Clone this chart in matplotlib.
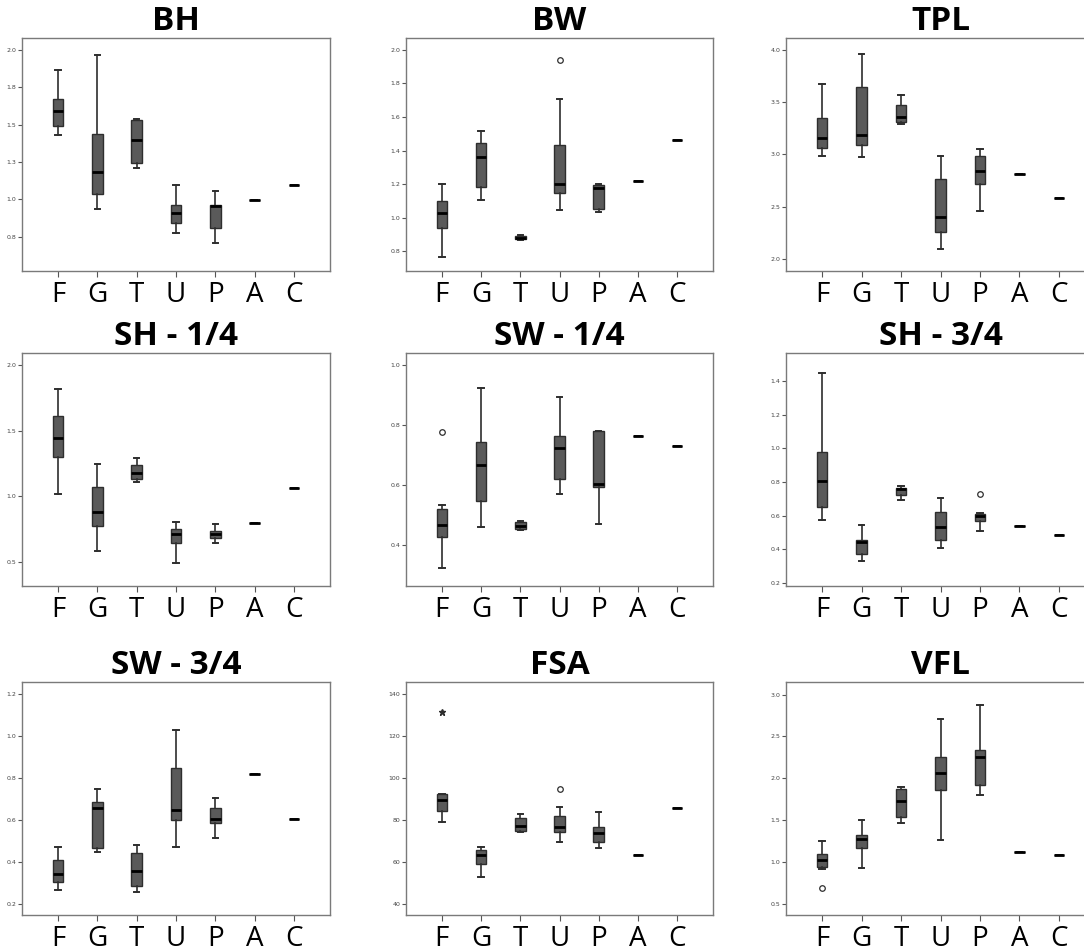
import matplotlib
matplotlib.use("Agg")
import matplotlib.pyplot as plt

groups = ["F", "G", "T", "U", "P", "A", "C"]

# --- per-panel five-number summaries (lower whisker, Q1, median, Q3, upper whisker) ---
bh_lo  = [1.432, 0.935, 1.209, 0.777, 0.705, 0.993, 1.095]
bh_q1  = [1.490, 1.033, 1.240, 0.844, 0.808, 0.993, 1.095]
bh_med = [1.588, 1.184, 1.398, 0.908, 0.953, 0.993, 1.095]
bh_q3  = [1.672, 1.436, 1.532, 0.959, 0.964, 0.993, 1.095]
bh_hi  = [1.866, 1.967, 1.537, 1.095, 1.053, 0.993, 1.095]
bh_out = [[], [], [], [], [], [], []]

bw_lo  = [0.768, 1.105, 0.868, 1.047, 1.035, 1.217, 1.466]
bw_q1  = [0.942, 1.181, 0.874, 1.149, 1.051, 1.217, 1.466]
bw_med = [1.027, 1.362, 0.882, 1.203, 1.177, 1.217, 1.466]
bw_q3  = [1.103, 1.446, 0.890, 1.434, 1.197, 1.217, 1.466]
bw_hi  = [1.201, 1.518, 0.896, 1.705, 1.203, 1.217, 1.466]
bw_out = [[], [], [], [1.940], [], [], []]

tpl_lo  = [2.981, 2.974, 3.291, 2.096, 2.454, 2.812, 2.578]
tpl_q1  = [3.058, 3.089, 3.307, 2.256, 2.719, 2.812, 2.578]
tpl_med = [3.153, 3.179, 3.358, 2.403, 2.843, 2.812, 2.578]
tpl_q3  = [3.342, 3.642, 3.470, 2.767, 2.984, 2.812, 2.578]
tpl_hi  = [3.671, 3.958, 3.569, 2.981, 3.048, 2.812, 2.578]
tpl_out = [[], [], [], [], [], [], []]

sh14_lo  = [1.017, 0.584, 1.106, 0.492, 0.645, 0.795, 1.060]
sh14_q1  = [1.300, 0.770, 1.129, 0.640, 0.683, 0.795, 1.060]
sh14_med = [1.447, 0.882, 1.175, 0.709, 0.711, 0.795, 1.060]
sh14_q3  = [1.616, 1.068, 1.239, 0.747, 0.734, 0.795, 1.060]
sh14_hi  = [1.817, 1.249, 1.294, 0.800, 0.790, 0.795, 1.060]
sh14_out = [[], [], [], [], [], [], []]

sw14_lo  = [0.324, 0.461, 0.450, 0.571, 0.471, 0.763, 0.729]
sw14_q1  = [0.426, 0.547, 0.453, 0.619, 0.594, 0.763, 0.729]
sw14_med = [0.468, 0.666, 0.465, 0.724, 0.603, 0.763, 0.729]
sw14_q3  = [0.520, 0.744, 0.478, 0.764, 0.779, 0.763, 0.729]
sw14_hi  = [0.532, 0.924, 0.481, 0.895, 0.782, 0.763, 0.729]
sw14_out = [[0.776], [], [], [], [], [], []]

sh34_lo  = [0.576, 0.329, 0.694, 0.408, 0.506, 0.538, 0.484]
sh34_q1  = [0.648, 0.371, 0.721, 0.452, 0.566, 0.538, 0.484]
sh34_med = [0.805, 0.441, 0.757, 0.532, 0.596, 0.538, 0.484]
sh34_q3  = [0.978, 0.457, 0.767, 0.624, 0.610, 0.538, 0.484]
sh34_hi  = [1.450, 0.546, 0.777, 0.707, 0.615, 0.538, 0.484]
sh34_out = [[], [], [], [], [0.731], [], []]

sw34_lo  = [0.264, 0.446, 0.257, 0.472, 0.512, 0.818, 0.603]
sw34_q1  = [0.304, 0.468, 0.283, 0.599, 0.584, 0.818, 0.603]
sw34_med = [0.343, 0.655, 0.358, 0.647, 0.603, 0.818, 0.603]
sw34_q3  = [0.410, 0.687, 0.441, 0.846, 0.657, 0.818, 0.603]
sw34_hi  = [0.473, 0.749, 0.482, 1.031, 0.703, 0.818, 0.603]
sw34_out = [[], [], [], [], [], [], []]

fsa_lo  = [78.8, 52.9, 74.1, 69.7, 66.8, 63.4, 85.6]
fsa_q1  = [84.3, 59.1, 74.9, 74.3, 69.7, 63.4, 85.6]
fsa_med = [89.3, 63.3, 77.3, 76.4, 74.0, 63.4, 85.6]
fsa_q3  = [92.2, 65.7, 80.7, 81.8, 76.8, 63.4, 85.6]
fsa_hi  = [92.5, 67.3, 82.9, 86.1, 83.7, 63.4, 85.6]
fsa_out = [[], [], [], [94.9], [], [], []]
fsa_extreme = [[131.4], [], [], [], [], [], []]

vfl_lo  = [0.911, 0.931, 1.470, 1.267, 1.798, 1.123, 1.087]
vfl_q1  = [0.939, 1.163, 1.538, 1.857, 1.917, 1.123, 1.087]
vfl_med = [1.023, 1.275, 1.730, 2.069, 2.257, 1.123, 1.087]
vfl_q3  = [1.095, 1.327, 1.874, 2.257, 2.333, 1.123, 1.087]
vfl_hi  = [1.247, 1.498, 1.894, 2.708, 2.876, 1.123, 1.087]
vfl_out = [[0.688], [], [], [], [], [], []]

# tick values and their printed labels
bh_ticks = [0.75, 1.0, 1.25, 1.5, 1.75, 2.0]
bh_tick_labels = ["0.8", "1.0", "1.3", "1.5", "1.8", "2.0"]
bw_ticks = [0.8, 1.0, 1.2, 1.4, 1.6, 1.8, 2.0]
tpl_ticks = [2.0, 2.5, 3.0, 3.5, 4.0]
sh14_ticks = [0.5, 1.0, 1.5, 2.0]
sw14_ticks = [0.4, 0.6, 0.8, 1.0]
sh34_ticks = [0.2, 0.4, 0.6, 0.8, 1.0, 1.2, 1.4]
sw34_ticks = [0.2, 0.4, 0.6, 0.8, 1.0, 1.2]
fsa_ticks = [40, 60, 80, 100, 120, 140]
vfl_ticks = [0.5, 1.0, 1.5, 2.0, 2.5, 3.0]

W, H = 1084, 951
fig = plt.figure(figsize=(W / 100, H / 100), dpi=100)
fig.patch.set_facecolor("white")

col_left = [22, 406, 786]
col_width = [308, 307, 309]
row_top = [38, 353, 682]
row_h = 233

panels = [
    ("BH", bh_lo, bh_q1, bh_med, bh_q3, bh_hi, bh_out, None, (0.52, 2.08), bh_ticks, bh_tick_labels),
    ("BW", bw_lo, bw_q1, bw_med, bw_q3, bw_hi, bw_out, None, (0.684, 2.07), bw_ticks, None),
    ("TPL", tpl_lo, tpl_q1, tpl_med, tpl_q3, tpl_hi, tpl_out, None, (1.885, 4.11), tpl_ticks, None),
    ("SH - 1/4", sh14_lo, sh14_q1, sh14_med, sh14_q3, sh14_hi, sh14_out, None, (0.314, 2.094), sh14_ticks, None),
    ("SW - 1/4", sw14_lo, sw14_q1, sw14_med, sw14_q3, sw14_hi, sw14_out, None, (0.263, 1.041), sw14_ticks, None),
    ("SH - 3/4", sh34_lo, sh34_q1, sh34_med, sh34_q3, sh34_hi, sh34_out, None, (0.180, 1.569), sh34_ticks, None),
    ("SW - 3/4", sw34_lo, sw34_q1, sw34_med, sw34_q3, sw34_hi, sw34_out, None, (0.146, 1.259), sw34_ticks, None),
    ("FSA", fsa_lo, fsa_q1, fsa_med, fsa_q3, fsa_hi, fsa_out, fsa_extreme, (34.6, 145.9), fsa_ticks, None),
    ("VFL", vfl_lo, vfl_q1, vfl_med, vfl_q3, vfl_hi, vfl_out, None, (0.364, 3.152), vfl_ticks, None),
]

box_fill = "#5a5a5a"
edge = "#2e2e2e"

for i, (title, lo, q1, med, q3, hi, outs, extremes, ylim, ticks, tlabels) in enumerate(panels):
    r, c = divmod(i, 3)
    l = col_left[c]
    w = col_width[c]
    t = row_top[r]
    ax = fig.add_axes([l / W, 1 - (t + row_h) / H, w / W, row_h / H])
    stats = []
    for k, g in enumerate(groups):
        stats.append(dict(label=g, whislo=lo[k], q1=q1[k], med=med[k], q3=q3[k],
                          whishi=hi[k], fliers=outs[k]))
    pos = list(range(len(groups)))
    ax.bxp(stats, positions=pos, widths=0.27, patch_artist=True, manage_ticks=False,
           boxprops=dict(facecolor=box_fill, edgecolor=edge, linewidth=1.0),
           medianprops=dict(color="black", linewidth=2.0, solid_capstyle="butt"),
           whiskerprops=dict(color=edge, linewidth=1.2),
           capprops=dict(color=edge, linewidth=1.4),
           flierprops=dict(marker="o", markersize=4, markerfacecolor="white",
                           markeredgecolor=edge, markeredgewidth=0.9, linestyle="none"))
    if extremes is not None:
        for k, vals in enumerate(extremes):
            if vals:
                ax.plot([pos[k]] * len(vals), vals, linestyle="none", marker="*",
                        markersize=5, color=edge)
    ax.set_xlim(-0.916, 6.916)
    ax.set_ylim(*ylim)
    ax.set_xticks(pos)
    ax.set_xticklabels(groups, fontsize=20, family="Open Sans")
    ax.set_yticks(ticks)
    if tlabels is not None:
        ax.set_yticklabels(tlabels)
    else:
        ax.set_yticklabels([f"{v:.1f}" if v < 10 else f"{v:g}" for v in ticks])
    ax.tick_params(axis="y", labelsize=4.5, length=3, width=0.8, color="#555555",
                   labelcolor="#444444", pad=1)
    ax.tick_params(axis="x", length=4, width=0.8, color="#555555", pad=3)
    for sp in ax.spines.values():
        sp.set_color("#7a7a7a")
        sp.set_linewidth(1.0)
    ax.set_title(title, fontsize=24, fontweight="bold", family="Open Sans", pad=-5)

fig.savefig("out.png", dpi=100, facecolor="white")
